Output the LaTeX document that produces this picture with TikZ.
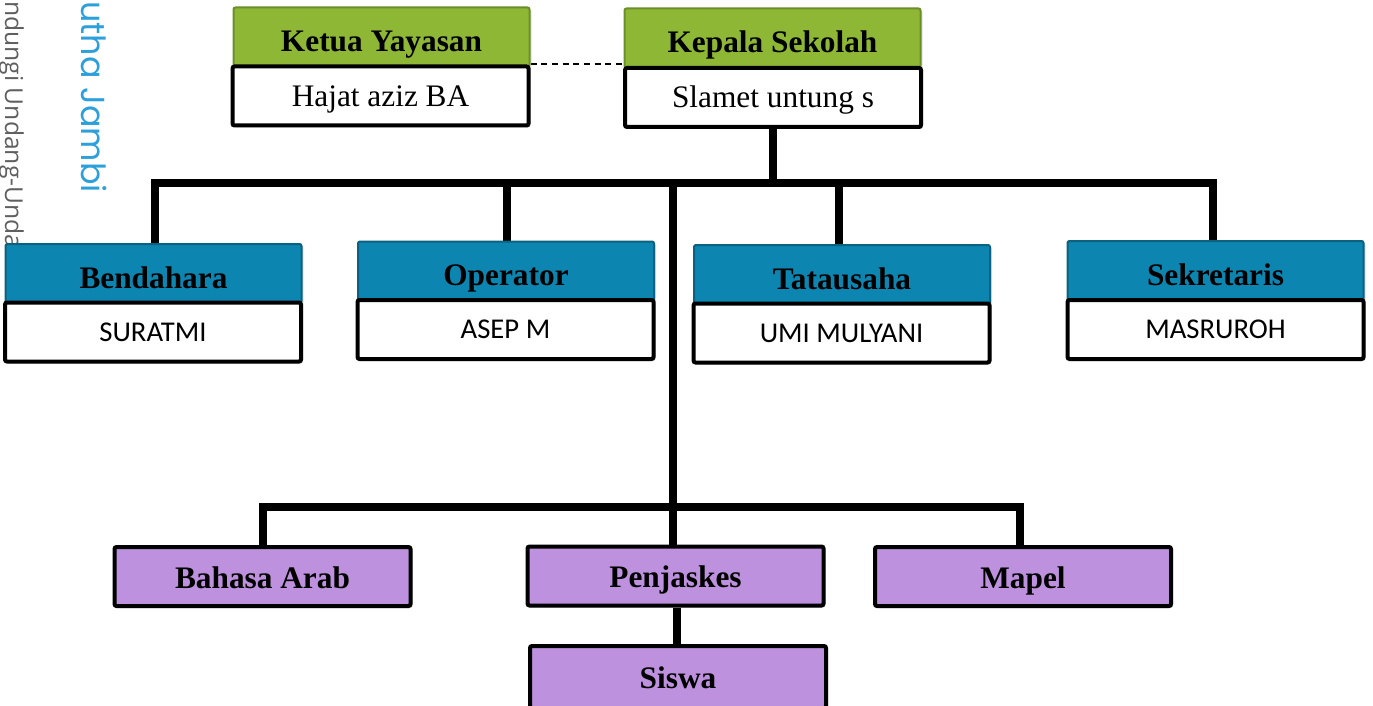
\documentclass[tikz,border=0pt]{standalone}
\usepackage{fontspec}
\setmainfont{Liberation Serif}
\newfontfamily\calfont{Carlito}
\newfontfamily\wmfont{Poppins}
\newfontfamily\wmgray{Open Sans}
\usetikzlibrary{shadows}
\pgfdeclarelayer{bg}
\pgfdeclarelayer{wm}
\pgfsetlayers{wm,bg,main}
\definecolor{hgreen}{RGB}{141,183,52}
\definecolor{hgreenD}{RGB}{108,142,40}
\definecolor{hblue}{RGB}{12,134,176}
\definecolor{hblueD}{RGB}{10,98,128}
\definecolor{hpurple}{RGB}{190,145,222}
\definecolor{wmblue}{RGB}{45,160,220}
\definecolor{wmgrey}{RGB}{95,95,95}
\begin{document}
\begin{tikzpicture}[x=0.75pt,y=-0.75pt,
  conn/.style={line width=6pt,black},
  boxbase/.style={rectangle,minimum width=296*0.75pt,minimum height=59*0.75pt,inner sep=0pt,
     drop shadow={shadow xshift=1.5pt,shadow yshift=-1.5pt,opacity=0.25}},
  hdr/.style={boxbase,line width=1.5pt,rounded corners=1.5pt,
     font=\fontsize{23.5}{28}\selectfont\bfseries,text height=22.25pt,text depth=0pt},
  hdrG/.style={hdr,fill=hgreen,draw=hgreenD},
  hdrB/.style={hdr,fill=hblue,draw=hblueD},
  nmS/.style={boxbase,fill=white,draw=black,line width=3pt,rounded corners=1.5pt,
     font=\fontsize{23.5}{28}\selectfont,text height=15.5pt,text depth=0pt},
  nmC/.style={boxbase,fill=white,draw=black,line width=3pt,rounded corners=1.5pt,
     font=\fontsize{21.5}{26}\calfont,text height=13.85pt,text depth=0pt},
  pbox/.style={boxbase,fill=hpurple,draw=black,line width=3pt,rounded corners=1.5pt,
     font=\fontsize{23.5}{28}\selectfont\bfseries,text height=17.75pt,text depth=0pt}
]
\useasboundingbox (0,0) rectangle (1373,706);

% watermark
\begin{pgfonlayer}{wm}
\node[rotate=-90,anchor=base west,inner sep=0pt,text=wmblue,font=\fontsize{25}{30}\wmfont] (wm1) at (81,1) {utha Jambi};
\node[rotate=-90,anchor=base west,inner sep=0pt,text=wmgrey,font=\fontsize{18.5}{22}\wmgray] (wm2) at (5,1) {ndungi Undang-Unda};
\end{pgfonlayer}

\path
  (381.5,37) node[hdrG] (ketH) {Ketua Yayasan}
  (772.5,38) node[hdrG] (kepH) {Kepala Sekolah}
  (153.5,273.5) node[hdrB] (benH) {Bendahara}
  (506,271) node[hdrB] (opH) {Operator}
  (842,274.5) node[hdrB] (tatH) {Tatausaha}
  (1215.5,270.5) node[hdrB] (sekH) {Sekretaris};

\path
  (380.5,96) node[nmS] (ketN) {Hajat aziz BA}
  (773,97.5) node[nmS] (kepN) {Slamet untung s}
  (153,332) node[nmC] (benN) {SURATMI}
  (505.5,329.5) node[nmC] (opN) {ASEP M}
  (841.5,333) node[nmC] (tatN) {UMI MULYANI}
  (1215.5,329.5) node[nmC] (sekN) {MASRUROH};

\path
  (262.5,576.5) node[pbox] (arab) {Bahasa Arab}
  (675.5,576) node[pbox] (penj) {Penjaskes}
  (1023,576.5) node[pbox] (mapel) {Mapel}
  (678,677) node[pbox,minimum height=62*0.75pt] (siswa) {Siswa};

\coordinate (bus) at (773,183);
\coordinate (trunk) at (673,183);
\coordinate (low) at (673,507);

\begin{pgfonlayer}{bg}
\draw[conn] (kepN.south) -- (bus);
\draw[conn] ([xshift=1.5*0.75pt]benH.north) |- (bus) -| ([xshift=-2.5*0.75pt]sekH.north);
\draw[conn] ([xshift=1*0.75pt]opH.north) -- ([xshift=1*0.75pt]opH.north |- bus);
\draw[conn] ([xshift=-3*0.75pt]tatH.north) -- ([xshift=-3*0.75pt]tatH.north |- bus);
\draw[conn] (trunk) -- (low);
\draw[conn] (arab.north) |- (low) -| ([xshift=-3*0.75pt]mapel.north);
\draw[conn] (low) -- (low |- penj.north);
\draw[conn] ([xshift=1.5*0.75pt]penj.south) -- ([xshift=1.5*0.75pt]penj.south |- siswa.north);
\draw[line width=1.5pt,dash pattern=on 4.5pt off 3.5pt] (ketN.north east) -- (ketN.north east -| kepN.west);
\end{pgfonlayer}
\end{tikzpicture}
\end{document}
